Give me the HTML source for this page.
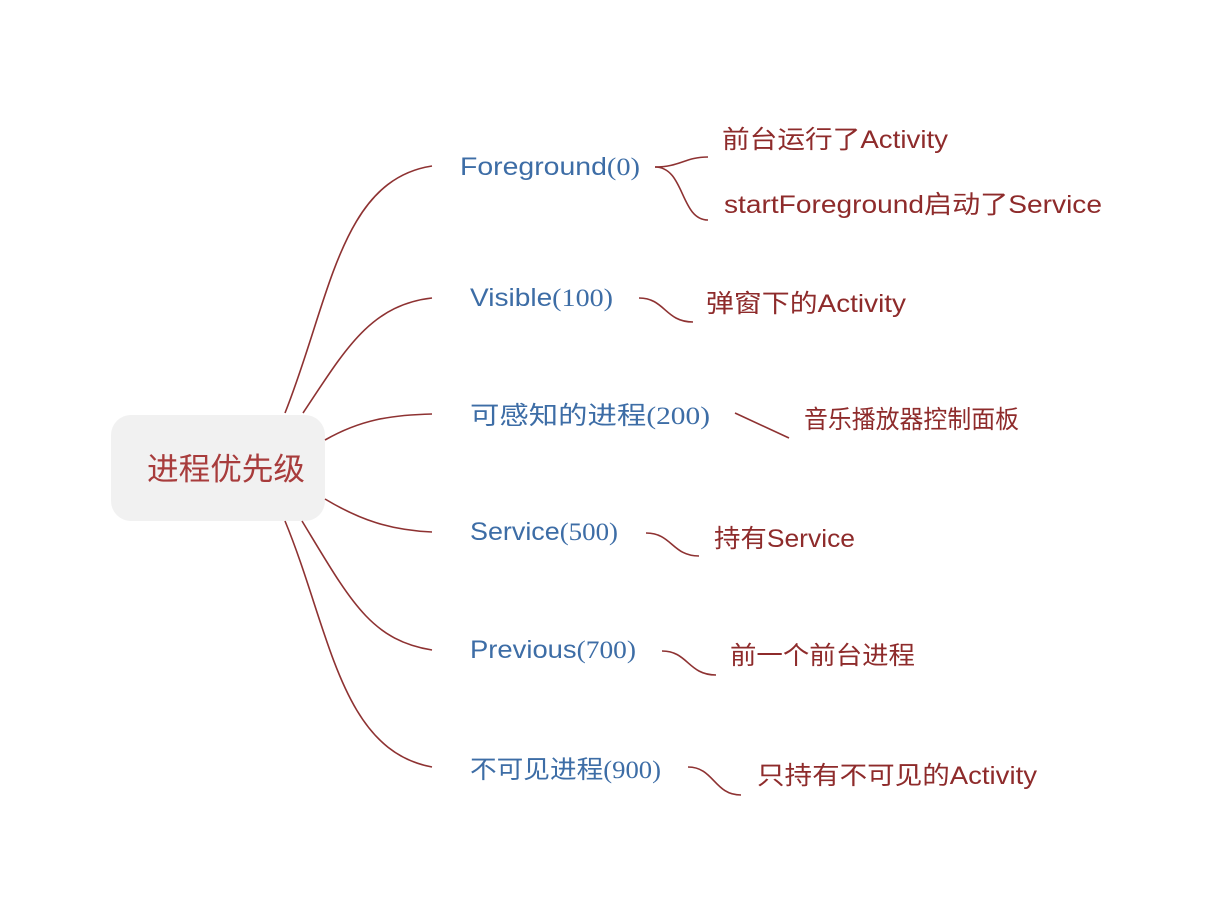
<!DOCTYPE html>
<html><head><meta charset="utf-8"><style>
body{margin:0;background:#fff;width:1230px;height:920px;overflow:hidden}
svg{display:block}
.b{font-family:"Liberation Sans","Noto Sans CJK SC",sans-serif;font-size:25px;fill:#3d6da6}
.n{font-family:"Liberation Serif",serif}
.r{font-family:"Liberation Sans","Noto Sans CJK SC",sans-serif;font-size:25px;fill:#8e2b2b}
path{fill:none;stroke:#8e3232;stroke-width:1.6}
</style></head><body>
<svg width="1230" height="920" viewBox="0 0 1230 920">
<rect x="111" y="415" width="214" height="106" rx="20" fill="#f1f1f1"/>
<text x="147" y="480" textLength="158" lengthAdjust="spacingAndGlyphs" font-family="Liberation Sans,Noto Sans CJK SC,sans-serif" font-size="31" fill="#a83c3c">进程优先级</text>
<path d="M285 413 C330 300 340 180 432 166"/>
<path d="M303 413 C345 350 370 305 432 298"/>
<path d="M325 440 C360 420 390 415 432 414"/>
<path d="M325 499 C360 520 390 530 432 532"/>
<path d="M302 521 C350 600 370 640 432 650"/>
<path d="M285 521 C330 630 340 750 432 767"/>
<path d="M655 167 C680 167 685 157 708 157"/>
<path d="M655 167 C685 167 680 220 708 220"/>
<path d="M639 298 C665 298 665 322 693 322"/>
<path d="M735 413 L789 438"/>
<path d="M646 533 C672 533 672 556 699 556"/>
<path d="M662 651 C688 651 688 675 716 675"/>
<path d="M688 767 C714 767 714 795 741 795"/>
<text class="b" x="460" y="175" textLength="180" lengthAdjust="spacingAndGlyphs">Foreground<tspan class="n">(0)</tspan></text>
<text class="b" x="470" y="306" textLength="143" lengthAdjust="spacingAndGlyphs">Visible<tspan class="n">(100)</tspan></text>
<text class="b" x="470" y="424" textLength="240" lengthAdjust="spacingAndGlyphs">可感知的进程<tspan class="n">(200)</tspan></text>
<text class="b" x="470" y="540" textLength="148" lengthAdjust="spacingAndGlyphs">Service<tspan class="n">(500)</tspan></text>
<text class="b" x="470" y="658" textLength="166" lengthAdjust="spacingAndGlyphs">Previous<tspan class="n">(700)</tspan></text>
<text class="b" x="470" y="778" textLength="191" lengthAdjust="spacingAndGlyphs">不可见进程<tspan class="n">(900)</tspan></text>
<text class="r" x="722" y="148" textLength="226" lengthAdjust="spacingAndGlyphs">前台运行了Activity</text>
<text class="r" x="724" y="213" textLength="378" lengthAdjust="spacingAndGlyphs">startForeground启动了Service</text>
<text class="r" x="706" y="312" textLength="200" lengthAdjust="spacingAndGlyphs">弹窗下的Activity</text>
<text class="r" x="804" y="428" font-size="22" textLength="215" lengthAdjust="spacingAndGlyphs">音乐播放器控制面板</text>
<text class="r" x="714" y="547" textLength="141" lengthAdjust="spacingAndGlyphs">持有Service</text>
<text class="r" x="730" y="664" textLength="185" lengthAdjust="spacingAndGlyphs">前一个前台进程</text>
<text class="r" x="757" y="784" textLength="280" lengthAdjust="spacingAndGlyphs">只持有不可见的Activity</text>
</svg>
</body></html>
